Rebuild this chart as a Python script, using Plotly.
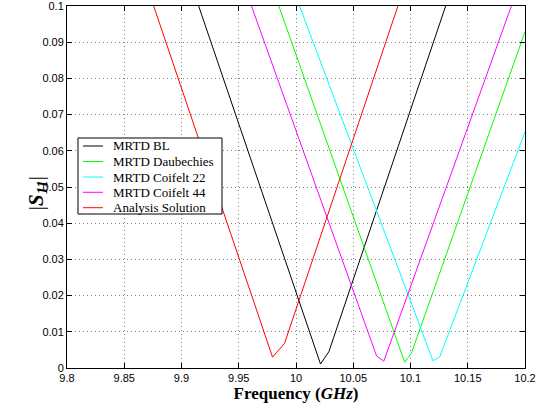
import plotly.graph_objects as go

# Data
names = ["MRTD BL", "MRTD Daubechies", "MRTD Coifelt 22", "MRTD Coifelt 44", "Analysis Solution"]
colors = ["#000000", "#00ff00", "#00ffff", "#ff00ff", "#ff0000"]

bl_f = [9.915, 10.0214, 10.0287, 10.1307]
bl_s = [0.1, 0.0011, 0.0045, 0.1]

daub_f = [9.985, 10.0949, 10.1008, 10.2]
daub_s = [0.1, 0.0016, 0.0041, 0.0929]

c22_f = [10.0031, 10.1196, 10.1254, 10.2]
c22_s = [0.1, 0.0020, 0.0030, 0.0652]

c44_f = [9.9611, 10.0704, 10.0767, 10.1881]
c44_s = [0.1, 0.0033, 0.0019, 0.1]

ana_f = [9.8757, 9.9795, 9.9900, 10.0890]
ana_s = [0.1, 0.0030, 0.0068, 0.1]

x_ticks = [9.8, 9.85, 9.9, 9.95, 10.0, 10.05, 10.1, 10.15, 10.2]
x_labels = ["9.8", "9.85", "9.9", "9.95", "10", "10.05", "10.1", "10.15", "10.2"]
y_ticks = [0, 0.01, 0.02, 0.03, 0.04, 0.05, 0.06, 0.07, 0.08, 0.09, 0.1]
y_labels = ["0", "0.01", "0.02", "0.03", "0.04", "0.05", "0.06", "0.07", "0.08", "0.09", "0.1"]

series = [(bl_f, bl_s), (daub_f, daub_s), (c22_f, c22_s), (c44_f, c44_s), (ana_f, ana_s)]

fig = go.Figure()
for (f, s), n, c in zip(series, names, colors):
    fig.add_trace(go.Scatter(x=f, y=s, mode="lines", name=n, showlegend=False,
                             line=dict(color=c, width=1)))

axis_common = dict(
    automargin=False,
    showline=True, linecolor="black", linewidth=1, mirror="ticks",
    ticks="inside", ticklen=5, tickcolor="black",
    showgrid=True, gridcolor="#808080", griddash="1px,3px", gridwidth=1,
    zeroline=False, ticklabeloverflow="allow",
    tickfont=dict(family="Liberation Sans, Arial", size=11, color="black"),
)

serif = "Liberation Serif, Times New Roman"

# MATLAB-style legend box (drawn as shapes + text annotations)
shapes = [dict(type="rect", xref="paper", yref="paper", x0=0.024, x1=0.3384,
               y0=0.4254, y1=0.6354, fillcolor="white",
               line=dict(color="black", width=1), layer="above")]
annotations = []
item_y = [0.6133, 0.5704, 0.5276, 0.4854, 0.4428]
for n, c, yy in zip(names, colors, item_y):
    shapes.append(dict(type="line", xref="paper", yref="paper", x0=0.0349, x1=0.0786,
                       y0=yy, y1=yy, line=dict(color=c, width=1), layer="above"))
    annotations.append(dict(xref="paper", yref="paper", x=0.0961, y=yy, text=n,
                            xanchor="left", yanchor="middle", showarrow=False,
                            font=dict(family=serif, size=13, color="black")))

# Y-axis title
annotations.append(dict(xref="paper", yref="paper", x=-0.0655, y=0.483,
                        text="|<b><i>S</i></b><sub><b><i>11</i></b></sub>|", showarrow=False,
                        textangle=-90, xanchor="center", yanchor="middle",
                        font=dict(family=serif, size=21, color="black")))

fig.update_layout(
    template="none",
    width=539, height=408,
    margin=dict(l=67, r=14, t=6, b=40, pad=0),
    paper_bgcolor="white", plot_bgcolor="white",
    showlegend=False,
    shapes=shapes,
    annotations=annotations,
    xaxis=dict(range=[9.8, 10.2], tickvals=x_ticks, ticktext=x_labels,
               title=dict(text="<b>Frequency (<i>GHz</i>)</b>", standoff=0,
                          font=dict(family=serif, size=17, color="black")),
               **axis_common),
    yaxis=dict(range=[0, 0.1], tickvals=y_ticks, ticktext=y_labels, **axis_common),
)

fig.write_html("out.html", config={"displayModeBar": False},
               post_script="document.body.style.margin='0';")
